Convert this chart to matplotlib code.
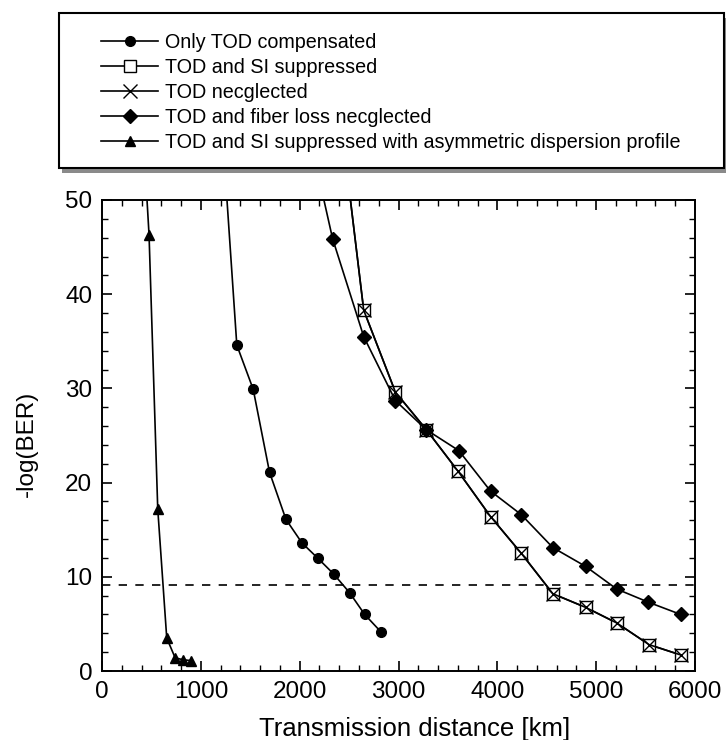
import matplotlib
matplotlib.use('Agg')
import matplotlib.pyplot as plt
from matplotlib.patches import Rectangle
from matplotlib.ticker import MultipleLocator

plt.rcParams['font.family'] = ['Liberation Sans', 'DejaVu Sans']

# Only TOD compensated
tod_comp_x = [1200, 1364, 1530, 1695, 1861, 2023, 2181, 2344, 2506, 2658, 2827]
tod_comp_y = [60.0, 34.6, 29.9, 21.1, 16.1, 13.6, 12.0, 10.3, 8.3, 6.0, 4.1]

# TOD and SI suppressed
si_supp_x = [2330, 2648, 2969, 3283, 3603, 3931, 4242, 4562, 4894, 5208, 5535, 5856]
si_supp_y = [66.0, 38.3, 29.6, 25.6, 21.2, 16.4, 12.5, 8.2, 6.75, 5.1, 2.8, 1.7]

# TOD neglected (lies on top of the SI suppressed curve)
tod_neg_x = [2330, 2648, 2969, 3283, 3603, 3931, 4242, 4562, 4894, 5208, 5535, 5856]
tod_neg_y = [66.0, 38.3, 29.6, 25.6, 21.2, 16.4, 12.5, 8.2, 6.75, 5.1, 2.8, 1.7]

# TOD and fiber loss neglected
loss_neg_x = [2010, 2333, 2648, 2969, 3283, 3610, 3931, 4242, 4562, 4894, 5208, 5529, 5856]
loss_neg_y = [61.0, 45.9, 35.5, 28.7, 25.6, 23.4, 19.1, 16.6, 13.1, 11.1, 8.7, 7.3, 6.0]

# TOD and SI suppressed with asymmetric dispersion profile
asym_x = [400, 476, 564, 655, 740, 818, 902]
asym_y = [60.0, 46.3, 17.2, 3.5, 1.4, 1.2, 1.1]

ber_limit = 9.1

fig = plt.figure(figsize=(7.26, 7.40), dpi=100)
ax = fig.add_axes([102 / 726, 1 - 671 / 740, (695 - 102) / 726, (671 - 200) / 740])

ax.axhline(ber_limit, color='black', lw=1.2, ls=(0, (5, 5)), zorder=1)

ax.plot(tod_comp_x, tod_comp_y, color='black', lw=1.2, marker='o', ms=7,
        label='Only TOD compensated')
ax.plot(si_supp_x, si_supp_y, color='black', lw=1.2, marker='s', ms=8,
        mfc='white', mec='black', mew=1.0, label='TOD and SI suppressed')
ax.plot(tod_neg_x, tod_neg_y, color='black', lw=1.2, marker='x', ms=10,
        mew=1.0, label='TOD necglected')
ax.plot(loss_neg_x, loss_neg_y, color='black', lw=1.2, marker='D', ms=7.5,
        label='TOD and fiber loss necglected')
ax.plot(asym_x, asym_y, color='black', lw=1.2, marker='^', ms=7.5,
        label='TOD and SI suppressed with asymmetric dispersion profile')

ax.set_xlim(0, 6000)
ax.set_ylim(0, 50)
ax.xaxis.set_major_locator(MultipleLocator(1000))
ax.xaxis.set_minor_locator(MultipleLocator(200))
ax.yaxis.set_major_locator(MultipleLocator(10))
ax.yaxis.set_minor_locator(MultipleLocator(2))
ax.tick_params(which='both', direction='in', top=True, right=True, labelsize=17.5)
ax.tick_params(which='major', length=7, width=1.2, pad=7)
ax.tick_params(which='minor', length=4, width=1.0)
for s in ax.spines.values():
    s.set_linewidth(1.4)

ax.set_xlabel('Transmission distance [km]', fontsize=18.5)
ax.set_ylabel('-log(BER)', fontsize=17.5)
ax.xaxis.set_label_coords(0.528, -0.097)
ax.yaxis.set_label_coords(-0.108, 0.482)

# legend box with a shadow, above the plot
fig.patches.append(Rectangle((62 / 726, 1 - 173 / 740), 665 / 726, 155 / 740,
                             transform=fig.transFigure, facecolor='#8a8a8a',
                             edgecolor='none', zorder=0))
fig.patches.append(Rectangle((59 / 726, 1 - 168 / 740), 665 / 726, 155 / 740,
                             transform=fig.transFigure, facecolor='white',
                             edgecolor='black', lw=1.5, zorder=1))

handles, labels = ax.get_legend_handles_labels()
leg = fig.legend(handles, labels, loc='upper left',
                 bbox_to_anchor=(101 / 726, 1 - 33 / 740), frameon=False,
                 fontsize=14.2, handlelength=2.9, handletextpad=0.35,
                 labelspacing=0.3, borderpad=0, borderaxespad=0)
leg.set_zorder(2)

fig.savefig('out.png', dpi=100)
